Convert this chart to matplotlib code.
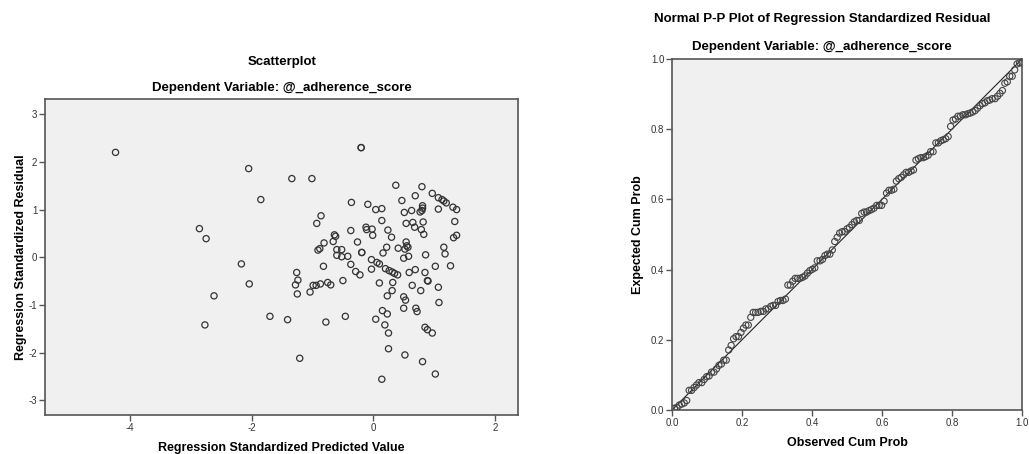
# Dependencies
import matplotlib
matplotlib.use("Agg")
import matplotlib.pyplot as plt

plt.rcParams["font.family"] = ["Liberation Sans", "DejaVu Sans"]
plt.rcParams["axes.unicode_minus"] = False

# Scatterplot data (standardized predicted value, standardized residual)
pred_value = [
    -4.24, -2.05, -1.85, -2.86, -2.75, -2.17, -2.04, -2.62, -2.77, -1.70,
    -1.41, -0.78, -0.46, -1.21, 0.14, 1.02, 0.81, 0.52, 0.25, -1.34,
    -1.01, -0.20, -0.20, -0.36, -0.09, 0.04, 0.14, -0.86, -0.93, 0.14,
    -0.12, -0.02, -0.11, 0.24, -0.37, -0.64, -0.62, -0.01, -0.66, -0.26,
    -0.81, 0.22, -0.88, -0.91, -0.60, -0.52, -0.19, -0.19, 0.16, -0.60,
    -0.52, -0.42, -0.82, -0.37, 0.06, 0.10, -0.03, 0.37, 0.80, 0.97,
    1.07, 1.13, 1.16, 1.20, 1.31, 1.37, 0.69, 0.47, 1.07, 0.81,
    0.81, 0.80, 0.77, 0.63, 0.51, 1.34, 0.54, 0.65, 0.68, 0.82,
    0.79, 0.83, 0.30, 1.37, 1.32, 0.54, 0.55, 0.52, 0.57, 0.41,
    1.16, 1.18, 0.86, 0.50, 0.58, -1.26, -1.24, -1.28, -1.25, -0.99,
    -0.94, -0.87, -0.75, -0.70, -1.04, -0.50, -0.29, -0.22, -0.03, 0.10,
    0.23, 0.04, 0.15, 0.23, 0.19, 0.25, 0.20, 0.26, 0.31, 0.35,
    0.40, 0.59, 0.69, 0.85, 1.02, 1.27, 0.89, 0.90, 0.64, 0.78,
    1.07, 0.32, 0.31, 0.50, 0.53, 1.08, 0.50, 0.70, 0.72, 0.85,
    0.89, 0.97,
]
residual = [
    2.20, 1.86, 1.21, 0.60, 0.39, -0.14, -0.56, -0.81, -1.42, -1.24,
    -1.31, -1.36, -1.24, -2.12, -2.56, -2.45, -2.19, -2.05, -1.92, 1.65,
    1.65, 2.30, 2.30, 1.15, 1.11, 1.00, 1.02, 0.87, 0.71, 0.77,
    0.63, 0.59, 0.58, 0.57, 0.56, 0.47, 0.44, 0.46, 0.33, 0.32,
    0.30, 0.21, 0.18, 0.15, 0.16, 0.16, 0.10, 0.10, 0.09, 0.04,
    0.01, 0.02, -0.19, -0.15, -0.11, -0.14, -0.05, 1.51, 1.48, 1.34,
    1.25, 1.21, 1.18, 1.14, 1.05, 1.00, 1.29, 1.19, 1.01, 1.08,
    1.03, 0.98, 0.95, 0.98, 0.94, 0.75, 0.71, 0.73, 0.63, 0.74,
    0.58, 0.48, 0.42, 0.46, 0.41, 0.32, 0.24, 0.17, 0.21, 0.19,
    0.21, 0.07, 0.05, -0.02, 0.02, -0.32, -0.48, -0.58, -0.77, -0.59,
    -0.59, -0.56, -0.53, -0.58, -0.73, -0.49, -0.30, -0.37, -0.25, -0.54,
    -0.81, -1.30, -1.12, -1.19, -1.42, -1.59, -0.24, -0.28, -0.31, -0.34,
    -0.37, -0.32, -0.26, -0.32, -0.19, -0.18, -0.49, -0.50, -0.59, -0.70,
    -0.63, -0.53, -0.70, -0.83, -0.90, -0.95, -1.07, -1.07, -1.14, -1.47,
    -1.52, -1.59,
]

# P-P plot data (observed vs expected cumulative probability)
pp_observed = [
    .007, .014, .021, .028, .035, .042, .049, .056, .063, .070,
    .077, .085, .092, .099, .106, .113, .120, .127, .134, .141,
    .148, .155, .162, .169, .176, .183, .190, .197, .204, .211,
    .218, .225, .232, .239, .246, .254, .261, .268, .275, .282,
    .289, .296, .303, .310, .317, .324, .331, .338, .345, .352,
    .359, .366, .373, .380, .387, .394, .401, .408, .415, .423,
    .430, .437, .444, .451, .458, .465, .472, .479, .486, .493,
    .500, .507, .514, .521, .528, .535, .542, .549, .556, .563,
    .570, .577, .585, .592, .599, .606, .613, .620, .627, .634,
    .641, .648, .655, .662, .669, .676, .683, .690, .697, .704,
    .711, .718, .725, .732, .739, .746, .754, .761, .768, .775,
    .782, .789, .796, .803, .810, .817, .824, .831, .838, .845,
    .852, .859, .866, .873, .880, .887, .894, .901, .908, .915,
    .923, .930, .937, .944, .951, .958, .965, .972, .979, .986,
    .993, 1.000,
]
pp_expected = [
    .005, .007, .014, .017, .020, .027, .056, .056, .064, .071,
    .078, .078, .087, .095, .097, .108, .108, .117, .127, .131,
    .142, .142, .171, .184, .203, .209, .209, .221, .233, .242,
    .242, .264, .278, .278, .278, .281, .281, .288, .288, .295,
    .298, .298, .309, .312, .312, .316, .356, .356, .367, .375,
    .375, .375, .378, .382, .390, .397, .401, .405, .425, .425,
    .429, .440, .444, .444, .456, .480, .492, .504, .508, .508,
    .516, .520, .528, .536, .540, .540, .560, .564, .564, .568,
    .571, .575, .583, .583, .583, .595, .618, .626, .626, .629,
    .652, .659, .663, .670, .677, .677, .681, .684, .712, .716,
    .719, .719, .722, .726, .736, .736, .761, .761, .767, .770,
    .773, .779, .808, .826, .829, .837, .837, .841, .841, .844,
    .846, .849, .853, .860, .867, .873, .875, .881, .883, .887,
    .887, .894, .902, .910, .931, .935, .951, .951, .969, .986,
    .989, .989,
]

x_ticks_left = [-4, -2, 0, 2]
y_ticks_left = [-3, -2, -1, 0, 1, 2, 3]
pp_ticks = [0.0, 0.2, 0.4, 0.6, 0.8, 1.0]

# Figure
fig = plt.figure(figsize=(10.29, 4.54), dpi=100)
bg = "#f0f0f0"
spine_col = "#555555"


def style_axes(ax):
    ax.set_facecolor(bg)
    for s in ax.spines.values():
        s.set_color(spine_col)
        s.set_linewidth(1.2)
    ax.tick_params(direction="out", length=4, width=1, color=spine_col,
                   labelsize=7, labelcolor="#333333", pad=1.5,
                   top=False, right=False)


# Left: scatterplot
ax1 = fig.add_axes([45 / 1029, 39 / 454, 473 / 1029, 316 / 454])
style_axes(ax1)
ax1.scatter(pred_value, residual, s=20, facecolors="none",
            edgecolors="#333333", linewidths=0.9)
ax1.set_xlim(-5.4, 2.38)
ax1.set_ylim(-3.31, 3.32)
ax1.set_xticks(x_ticks_left)
ax1.set_yticks(y_ticks_left)
ax1.set_xlabel("Regression Standardized Predicted Value", fontsize=9,
               fontweight="bold", labelpad=6.5)
ax1.set_ylabel("Regression Standardized Residual", fontsize=9,
               fontweight="bold", labelpad=1.5)
fig.text(282 / 1029, 1 - 62 / 454, "Scatterplot", ha="center", va="center",
         fontsize=9.5, fontweight="bold")
fig.text(282 / 1029, 1 - 88 / 454, "Dependent Variable: @_adherence_score",
         ha="center", va="center", fontsize=9.5, fontweight="bold")

# Right: normal P-P plot
ax2 = fig.add_axes([672 / 1029, 44 / 454, 350 / 1029, 351 / 454])
style_axes(ax2)
ax2.plot([0, 1], [0, 1], color="#222222", linewidth=0.8, zorder=2)
ax2.scatter(pp_observed, pp_expected, s=20, facecolors="none",
            edgecolors="#444444", linewidths=0.8, zorder=3)
ax2.set_xlim(0, 1)
ax2.set_ylim(0, 1)
ax2.set_xticks(pp_ticks)
ax2.set_yticks(pp_ticks)
ax2.set_xticklabels([f"{t:.1f}" for t in pp_ticks])
ax2.set_yticklabels([f"{t:.1f}" for t in pp_ticks])
ax2.set_xlabel("Observed Cum Prob", fontsize=9, fontweight="bold",
               labelpad=6.5)
ax2.set_ylabel("Expected Cum Prob", fontsize=9, fontweight="bold",
               labelpad=5)
fig.text(822 / 1029, 1 - 19 / 454,
         "Normal P-P Plot of Regression Standardized Residual",
         ha="center", va="center", fontsize=9.5, fontweight="bold")
fig.text(822 / 1029, 1 - 47 / 454, "Dependent Variable: @_adherence_score",
         ha="center", va="center", fontsize=9.5, fontweight="bold")

plt.savefig("out.png", dpi=100)
